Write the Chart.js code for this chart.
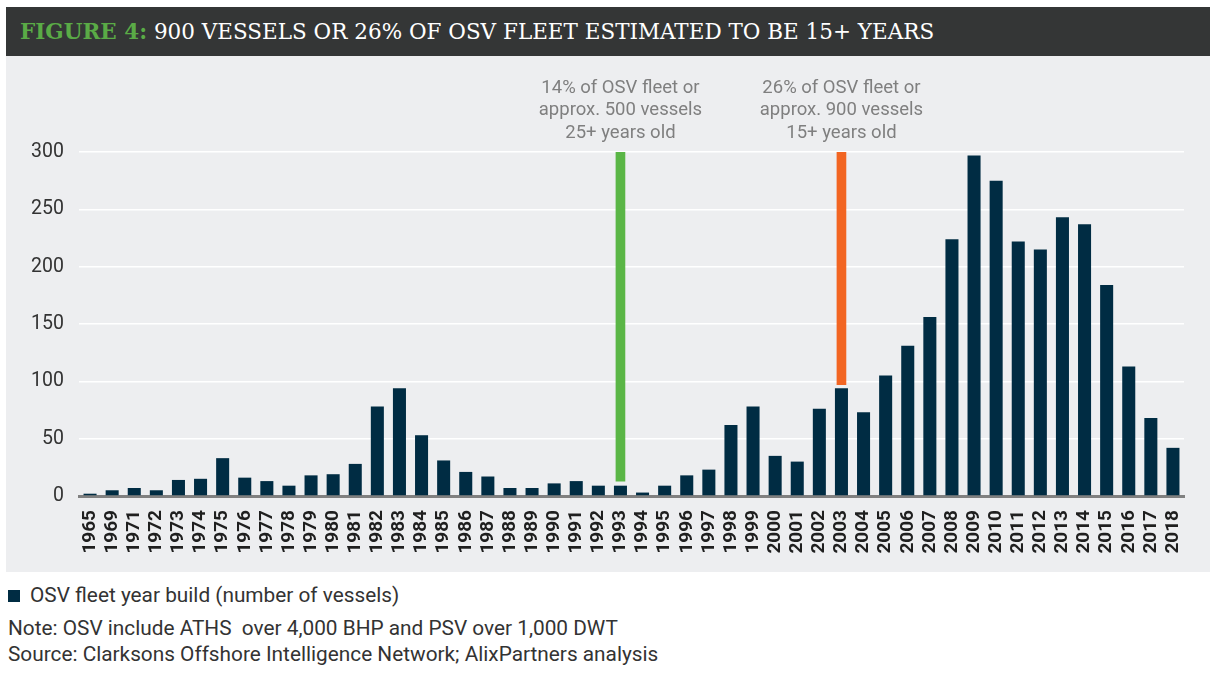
<!DOCTYPE html>
<html><head><meta charset="utf-8">
<script src="https://cdn.jsdelivr.net/npm/chart.js@4"></script>
<style>
html,body{margin:0;padding:0;background:#fff;width:1222px;height:674px;overflow:hidden;font-family:Roboto,sans-serif;}
#title{position:absolute;left:6px;top:7px;width:1204px;height:49px;background:#343636;color:#fff;font-family:"DejaVu Serif",serif;font-size:21.5px;line-height:49px;box-sizing:border-box;padding-left:14px;white-space:nowrap;}
#title b{color:#5aab46;}
#panel{position:absolute;left:6px;top:56px;width:1204px;height:516px;background:#edeef0;}
#c{position:absolute;left:0;top:0;}
.txt{position:absolute;left:8px;font-size:20.8px;color:#333;white-space:nowrap;line-height:24px;}
#leg{top:583px;}
#leg span{display:inline-block;width:12px;height:12px;background:#002c43;margin-right:10px;vertical-align:0px;}
#note{top:616px;}
#src{top:642px;}
</style></head>
<body>
<div id="title"><b>FIGURE 4:</b> 900 VESSELS OR 26% OF OSV FLEET ESTIMATED TO BE 15+ YEARS</div>
<div id="panel"><canvas id="c" width="1204" height="516"></canvas></div>
<div class="txt" id="leg"><span></span>OSV fleet year build (number of vessels)</div>
<div class="txt" id="note">Note: OSV include ATHS&nbsp; over 4,000 BHP and PSV over 1,000 DWT</div>
<div class="txt" id="src">Source: Clarksons Offshore Intelligence Network; AlixPartners analysis</div>
<script>
const years = ["1965","1969","1971","1972","1973","1974","1975","1976","1977","1978","1979","1980","1981","1982","1983","1984","1985","1986","1987","1988","1989","1990","1991","1992","1993","1994","1995","1996","1997","1998","1999","2000","2001","2002","2003","2004","2005","2006","2007","2008","2009","2010","2011","2012","2013","2014","2015","2016","2017","2018"];
const vessels = [2,5,7,5,14,15,33,16,13,9,18,19,28,78,94,53,31,21,17,7,7,11,13,9,9,3,9,18,23,62,78,35,30,76,94,73,105,131,156,224,297,275,222,215,243,237,184,113,68,42];
const markerYears = ["1993","2003"];
const markerRanges = [[13,300],[97,300]];
const markerColors = ["#5ab646","#f26522"];
const markerTexts = [["14% of OSV fleet or","approx. 500 vessels","25+ years old"],["26% of OSV fleet or","approx. 900 vessels","15+ years old"]];
const yTicks = [0,50,100,150,200,250,300];

const markerData = years.map(y => { const i = markerYears.indexOf(y); return i >= 0 ? markerRanges[i] : null; });
const markerBg = years.map(y => { const i = markerYears.indexOf(y); return i >= 0 ? markerColors[i] : "transparent"; });

const annot = {
  id: 'annot',
  afterDatasetsDraw(chart) {
    const ctx = chart.ctx, xs = chart.scales.x, ys = chart.scales.y;
    ctx.save();
    ctx.font = '18.5px Roboto';
    ctx.fillStyle = '#7f7f7f';
    ctx.textAlign = 'center';
    ctx.textBaseline = 'middle';
    const top = ys.getPixelForValue(300);
    markerYears.forEach((y, k) => {
      const x = xs.getPixelForValue(years.indexOf(y));
      markerTexts[k].forEach((t, j) => ctx.fillText(t, x, top - 64 + j * 22.5));
    });
    ctx.restore();
  }
};

new Chart(document.getElementById('c'), {
  type: 'bar',
  data: {
    labels: years,
    datasets: [
      {label: 'OSV fleet year build (number of vessels)', data: vessels, backgroundColor: '#002c43', barPercentage: 0.59, categoryPercentage: 1, order: 2},
      {label: 'markers', data: markerData, backgroundColor: markerBg, grouped: false, barThickness: 9, order: 1}
    ]
  },
  options: {
    responsive: false, animation: false,
    layout: {padding: {left: 0, right: 25, top: 96, bottom: 0}},
    plugins: {legend: {display: false}, tooltip: {enabled: false}},
    scales: {
      x: {
        grid: {display: false, drawTicks: false},
        border: {display: true, color: '#808080', width: 3},
        ticks: {minRotation: 90, maxRotation: 90, autoSkip: false, padding: 14, color: '#1f1f1f', font: {family: 'Roboto', size: 19, weight: 'bold'}},
        afterFit(s) { s.height = 76; }
      },
      y: {
        min: 0, max: 300,
        afterBuildTicks(s) { s.ticks = yTicks.map(v => ({value: v})); },
        grid: {color: '#ffffff', lineWidth: 1.5, drawTicks: false},
        border: {display: false},
        ticks: {padding: 15, color: '#333', font: {family: 'Roboto', size: 19.5}},
        afterFit(s) { s.width = 73; }
      }
    }
  },
  plugins: [annot]
});
</script>
</body></html>
